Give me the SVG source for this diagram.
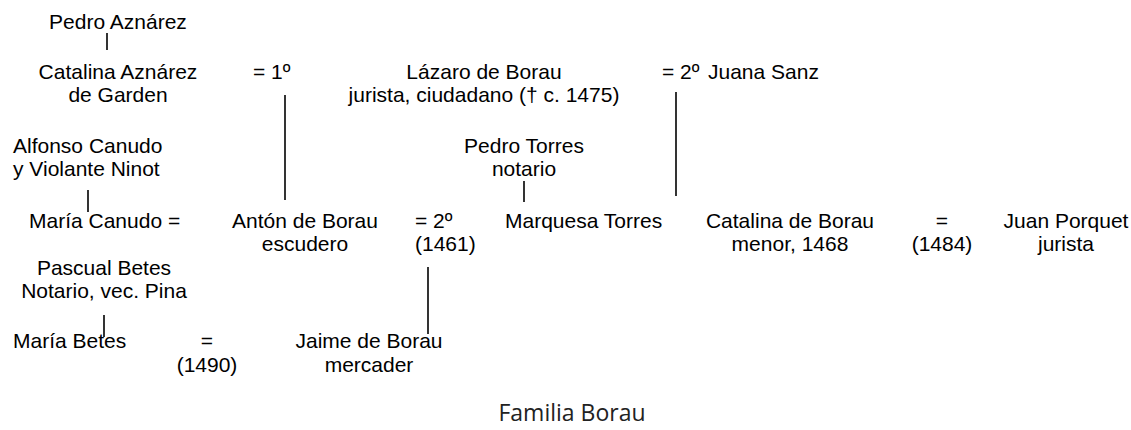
<svg xmlns="http://www.w3.org/2000/svg" width="1131" height="430" viewBox="0 0 1131 430">
<style>
text{font-family:"Liberation Sans",Arial,sans-serif;font-size:21px;fill:#000}
.c{text-anchor:middle}
.t{font-family:"Open Sans","DejaVu Sans",sans-serif;font-size:23px;fill:#222}
line{stroke:#000;stroke-width:1.6}
</style>
<rect width="1131" height="430" fill="#fff"/>
<g id="connectors">
<line x1="107" y1="33" x2="107" y2="50"/>
<line x1="285" y1="95" x2="285" y2="200"/>
<line x1="676" y1="92" x2="676" y2="196"/>
<line x1="88" y1="190" x2="88" y2="212"/>
<line x1="524" y1="181" x2="524" y2="202"/>
<line x1="104" y1="315" x2="104" y2="337"/>
<line x1="428" y1="267" x2="428" y2="334"/>
</g>
<g id="pedro-aznarez"><text class="c" x="118" y="29">Pedro Aznárez</text></g>
<g id="catalina-aznarez"><text class="c" x="118" y="79">Catalina Aznárez</text><text class="c" x="118" y="102">de Garden</text></g>
<g id="m1"><text x="253" y="79">= 1º</text></g>
<g id="lazaro"><text class="c" x="484" y="79">Lázaro de Borau</text><text class="c" x="484" y="102">jurista, ciudadano († c. 1475)</text></g>
<g id="m2"><text x="662" y="79">= 2º</text></g>
<g id="juana"><text x="708" y="79">Juana Sanz</text></g>
<g id="alfonso"><text x="13" y="153">Alfonso Canudo</text><text x="13" y="176">y Violante Ninot</text></g>
<g id="pedro-torres"><text class="c" x="524" y="153">Pedro Torres</text><text class="c" x="524" y="176">notario</text></g>
<g id="maria-canudo"><text x="29" y="228">María Canudo =</text></g>
<g id="anton"><text class="c" x="305" y="228">Antón de Borau</text><text class="c" x="305" y="251">escudero</text></g>
<g id="m3"><text x="415" y="228">= 2º</text><text x="415" y="251">(1461)</text></g>
<g id="marquesa"><text x="505" y="228">Marquesa Torres</text></g>
<g id="catalina-borau"><text class="c" x="790" y="228">Catalina de Borau</text><text class="c" x="790" y="251">menor, 1468</text></g>
<g id="m4"><text class="c" x="942" y="228">=</text><text class="c" x="942" y="251">(1484)</text></g>
<g id="juan"><text class="c" x="1066" y="228">Juan Porquet</text><text class="c" x="1066" y="251">jurista</text></g>
<g id="pascual"><text class="c" x="104" y="275">Pascual Betes</text><text class="c" x="104" y="298">Notario, vec. Pina</text></g>
<g id="maria-betes"><text x="13" y="348">María Betes</text></g>
<g id="m5"><text class="c" x="207" y="348">=</text><text class="c" x="207" y="372">(1490)</text></g>
<g id="jaime"><text class="c" x="369" y="348">Jaime de Borau</text><text class="c" x="369" y="372">mercader</text></g>
<g id="title"><text class="t c" x="572" y="421">Familia Borau</text></g>
</svg>
